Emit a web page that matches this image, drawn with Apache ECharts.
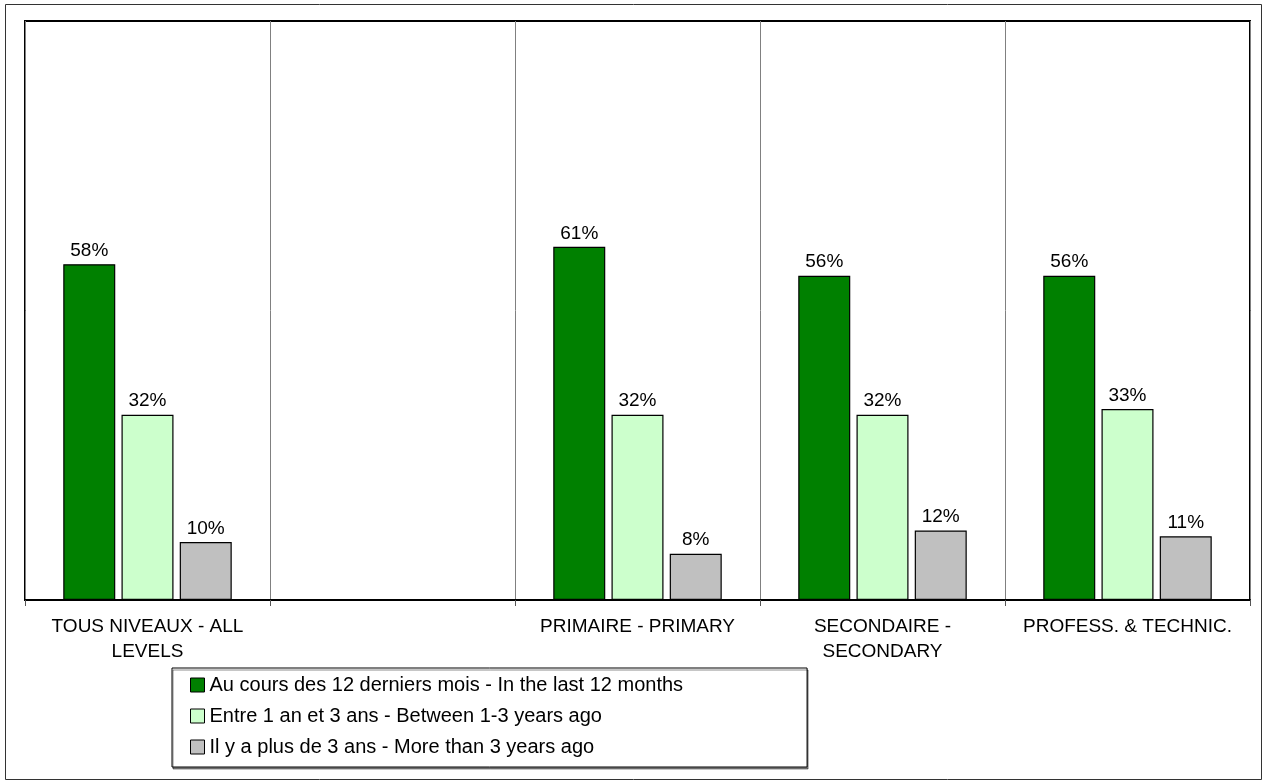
<!DOCTYPE html>
<html>
<head>
<meta charset="utf-8">
<script src="https://cdn.jsdelivr.net/npm/echarts@6/dist/echarts.min.js"></script>
<style>
html,body{margin:0;padding:0;background:#fff;}
#chart{width:1267px;height:784px;}
</style>
</head>
<body>
<div id="chart"></div>
<script>
var categories = ['TOUS NIVEAUX - ALL\nLEVELS', '', 'PRIMAIRE - PRIMARY', 'SECONDAIRE -\nSECONDARY', 'PROFESS. & TECHNIC.'];
var seriesNames = [
  'Au cours des 12 derniers mois - In the last 12 months',
  'Entre 1 an et 3 ans - Between 1-3 years ago',
  'Il y a plus de 3 ans - More than 3 years ago'
];
var last12 = [58, null, 61, 56, 56];
var between13 = [32, null, 32, 32, 33];
var over3 = [10, null, 8, 12, 11];
var colors = ['#008000', '#CCFFCC', '#C0C0C0'];

var FONT = "'Liberation Sans', Arial, sans-serif";
var chart = echarts.init(document.getElementById('chart'), null, {renderer: 'canvas'});

function mkSeries(name, data, color) {
  return {
    name: name,
    type: 'bar',
    data: data,
    barWidth: 52,
    barGap: '12%',
    itemStyle: {color: color, borderColor: '#000', borderWidth: 1.2},
    label: {
      show: true,
      position: 'top',
      distance: 4,
      formatter: '{c}%',
      color: '#000',
      fontSize: 19,
      fontFamily: FONT
    },
    emphasis: {disabled: true}
  };
}

chart.setOption({
  animation: false,
  backgroundColor: '#fff',
  textStyle: {fontFamily: FONT},
  graphic: [{
    type: 'rect',
    shape: {x: 5.5, y: 4.5, width: 1256, height: 775},
    style: {fill: 'none', stroke: '#333', lineWidth: 1},
    silent: true
  }],
  grid: {
    left: 25, right: 17, top: 21, bottom: 184,
    show: true, borderColor: '#000', borderWidth: 2,
    containLabel: false
  },
  legend: {
    orient: 'vertical',
    left: 172, top: 668,
    padding: [7, 124, 10, 18],
    itemGap: 11,
    itemWidth: 14, itemHeight: 14,
    borderColor: '#000', borderWidth: 1,
    backgroundColor: '#fff',
    shadowColor: 'rgba(0,0,0,0.45)', shadowOffsetX: 1, shadowOffsetY: 2, shadowBlur: 0,
    icon: 'rect',
    selectedMode: false,
    itemStyle: {borderColor: '#000', borderWidth: 1},
    textStyle: {fontSize: 20, lineHeight: 20, color: '#000', fontFamily: FONT},
    data: seriesNames
  },
  xAxis: {
    type: 'category',
    data: categories,
    boundaryGap: true,
    axisLine: {show: true, lineStyle: {color: '#000', width: 2}},
    axisTick: {show: true, length: 6, lineStyle: {color: '#555', width: 1}},
    splitLine: {show: true, interval: 0, lineStyle: {color: '#808080', width: 1}},
    axisLabel: {
      interval: 0,
      margin: 14,
      color: '#000',
      fontSize: 19,
      lineHeight: 25,
      fontFamily: FONT
    }
  },
  yAxis: {
    type: 'value',
    min: 0, max: 100,
    show: false,
    splitLine: {show: false}
  },
  series: [
    mkSeries(seriesNames[0], last12, colors[0]),
    mkSeries(seriesNames[1], between13, colors[1]),
    mkSeries(seriesNames[2], over3, colors[2])
  ]
});
</script>
</body>
</html>
